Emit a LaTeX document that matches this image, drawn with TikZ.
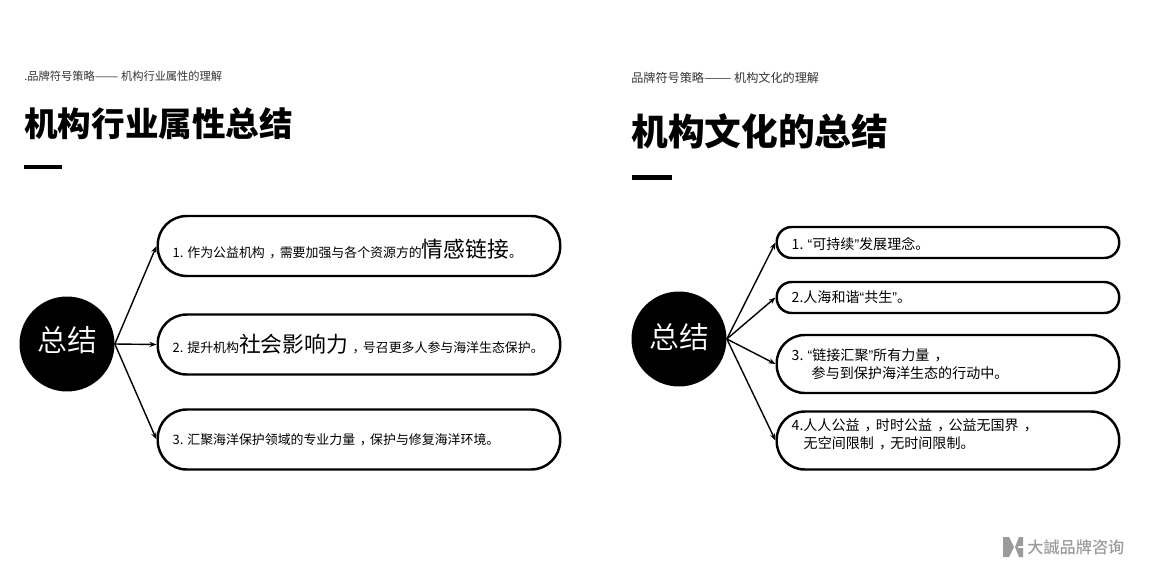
\documentclass[tikz,border=0pt]{standalone}
\usepackage{fontspec}
\setmainfont{Noto Sans CJK SC}[BoldFont={Noto Sans CJK SC Black}]
\newfontfamily\lightfont{Noto Sans CJK SC DemiLight}
\newfontfamily\midfont{Noto Sans CJK SC Medium}
\newfontfamily\quotefont{Liberation Sans}
\usetikzlibrary{arrows.meta}
\definecolor{logogray}{RGB}{155,155,155}
\newcommand{\dou}{\kern0.36em，\kern-0.2em}
\newcommand{\lqt}{{\quotefont “}}
\newcommand{\rqt}{{\quotefont ”}}
\newcommand{\bigtxt}[1]{{\fontsize{12.4}{10.2}\selectfont #1}}
\newcommand{\lowered}[2]{\raisebox{#1}[0pt][0pt]{#2}}
\begin{document}
\begin{tikzpicture}[
        x=0.02cm, y=-0.02cm,
        pillbox/.style={draw, line width=1.4pt, align=left, anchor=west, inner xsep=0.3cm, inner ysep=0pt},
        leftbox/.style={pillbox, text width=7.45cm, minimum height=1.2cm, rounded corners=0.58cm,
                        font=\fontsize{7.35}{10.2}\selectfont},
        flatbox/.style={pillbox, text width=6.25cm, minimum height=0.62cm, rounded corners=0.3cm,
                        font=\fontsize{8}{10}\selectfont},
        tallbox/.style={pillbox, text width=6.25cm, minimum height=1.16cm, rounded corners=0.56cm,
                        font=\fontsize{8}{10}\selectfont},
        sumcirc/.style={circle, fill=black, text=white, minimum size=1.9cm, inner sep=0pt,
                        font=\lightfont\fontsize{17}{20}\selectfont},
        subhead/.style={anchor=west, inner sep=0pt, text=black!80},
        mainhead/.style={anchor=west, inner sep=0pt, font=\bfseries},
        conn/.style={-{Stealth[length=4pt,width=3pt]}, line width=0.8pt}
                            ]
        \useasboundingbox (0,0) rectangle (1150,575);
        % left panel
        \node[subhead, font=\fontsize{6.4}{8}\selectfont] (subl) at (24,76.5) {.品牌符号策略\scalebox{1.25}[1]{——}\ 机构行业属性的理解};
        \node[mainhead, font=\bfseries\fontsize{19.1}{24}\selectfont] (headl) at (24,124) {机构行业属性总结};
        \fill (24,164.5) rectangle (62,168.5);
        \node[sumcirc] (suml) at (67,344) {\raisebox{0.22cm}{总结}};
        \node[leftbox] (la) at (156.5,246) {\lowered{-6.8pt}{1.\kern0.3em 作为公益机构\dou 需要加强与各个资源方的\bigtxt{情感链接}。}};
        \node[leftbox] (lb) at (156.5,344.5) {2.\kern0.3em 提升机构\bigtxt{社会影响力}\dou 号召更多人参与海洋生态保护。};
        \node[leftbox] (lc) at (156.5,439.5) {3.\kern0.3em 汇聚海洋保护领域的专业力量\dou 保护与修复海洋环境。};
        \draw[conn] (suml.east) -- (la.west);
        \draw[conn] (suml.east) -- (lb.west);
        \draw[conn] (suml.east) -- (lc.west);
        % right panel
        \node[subhead, font=\fontsize{6.9}{8}\selectfont] (subr) at (631,78) {品牌符号策略\scalebox{1.35}[1]{——}\ 机构文化的理解};
        \node[mainhead, font=\bfseries\fontsize{20.9}{24}\selectfont] (headr) at (631,131) {机构文化的总结};
        \fill (632,175) rectangle (672,180);
        \node[sumcirc] (sumr) at (679,339) {\raisebox{0.13cm}{总结}};
        \node[flatbox] (ra) at (775.5,242.5) {\lowered{-3.9pt}{1.\kern0.3em\lqt 可持续\rqt 发展理念。}};
        \node[flatbox] (rb) at (775.5,297.5) {2.人海和谐\lqt 共生\rqt 。};
        \node[tallbox] (rc) at (775.5,364) {3.\kern0.3em\lqt 链接汇聚\rqt 所有力量\dou\\\hspace*{0.4cm}参与到保护海洋生态的行动中。};
        \node[tallbox] (rd) at (775.5,440.5) {4.人人公益\dou 时时公益\dou 公益无国界\dou\\\hspace*{0.24cm}无空间限制\dou 无时间限制。\\[-2.4pt]\mbox{}};
        \draw[conn] (sumr.east) -- (ra.west);
        \draw[conn] (sumr.east) -- (rb.west);
        \draw[conn] (sumr.east) -- (rc.west);
        \draw[conn] (sumr.east) -- (rd.west);
        % logo
        \fill[logogray] (1003,537) -- (1009,537) -- (1014,547) -- (1009,557) -- (1003,557) -- cycle;
        \fill[logogray] (1023,537) -- (1019,537) -- (1015,547) -- (1019,557) -- (1023,557) -- (1023,548) -- (1018,548) -- (1018,546) -- (1023,546) -- cycle;
        \node[anchor=west, inner sep=0pt, text=logogray, font=\midfont\fontsize{9.2}{11}\selectfont] (logotext) at (1027,547) {大誠品牌咨询};
\end{tikzpicture}
\end{document}
